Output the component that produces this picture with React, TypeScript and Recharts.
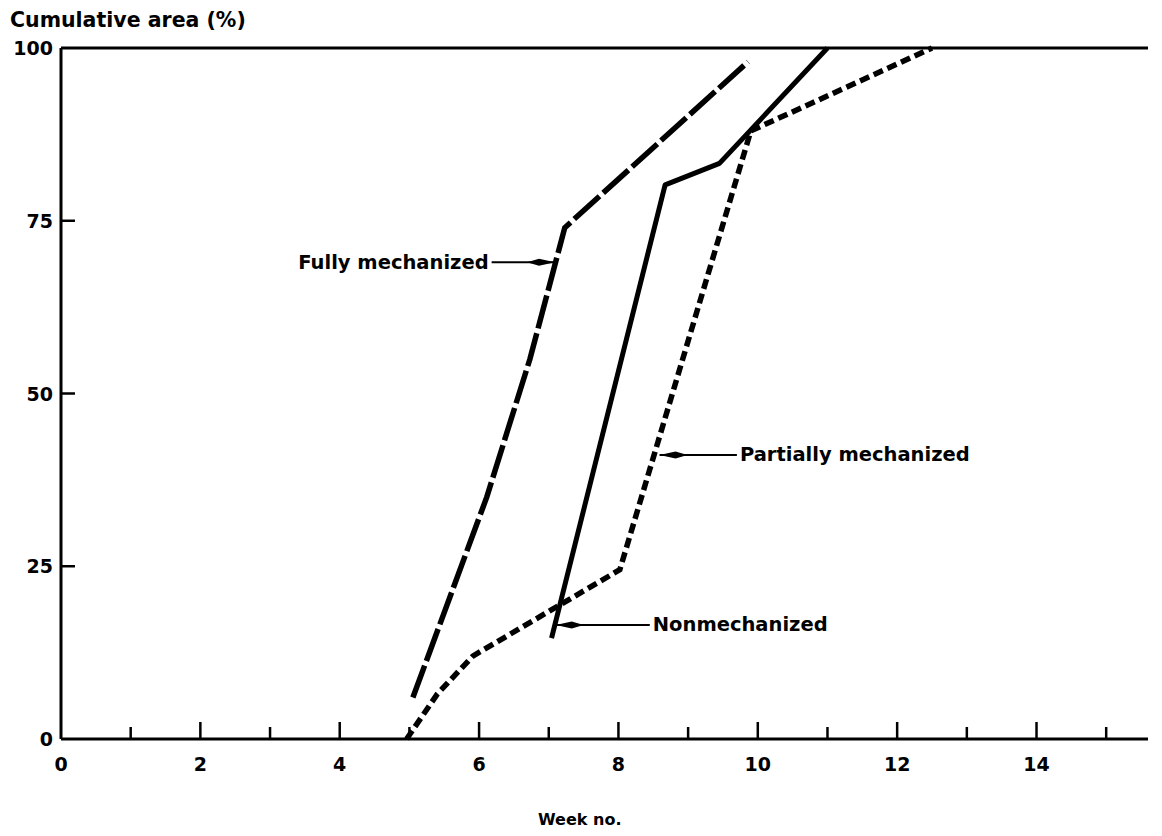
import React from "react";
import { LineChart, Line, XAxis, YAxis, ReferenceLine } from "recharts";

// values
const fullyWeeks = [5.05, 6.11, 6.73, 7.23, 9.86];
const fullyArea = [6, 35, 55, 74, 98];

const partialWeeks = [4.96, 5.4, 5.91, 8.02, 9.9, 12.5];
const partialArea = [0, 6.5, 12, 24.5, 88, 100];

const nonWeeks = [7.04, 8.67, 9.45, 11.0];
const nonArea = [14.6, 80.2, 83.3, 100];

const weekTicks = [0, 1, 2, 3, 4, 5, 6, 7, 8, 9, 10, 11, 12, 13, 14, 15];
const areaTicks = [0, 25, 50, 75, 100];

const toRows = (xs: number[], ys: number[]) => xs.map((x, i) => ({ week: x, area: ys[i] }));

const fullyData = toRows(fullyWeeks, fullyArea);
const partialData = toRows(partialWeeks, partialArea);
const nonData = toRows(nonWeeks, nonArea);

const FONT = "'DejaVu Sans', sans-serif";
const INK = "#000";
const X_MARGIN = 10;
const Y_MARGIN = 8;

const XTick = (props: any) => {
  const { x, y, payload } = props;
  const v = payload.value as number;
  const axisY = y - X_MARGIN;
  const even = v % 2 === 0;
  return (
    <g>
      {v > 0 && (
        <line x1={x} x2={x} y1={axisY} y2={axisY - (even ? 17 : 12)} stroke={INK} strokeWidth={2.5} />
      )}
      {even && (
        <text x={x} y={axisY + 25} textAnchor="middle" dominantBaseline="central"
          fontFamily={FONT} fontWeight="bold" fontSize={19} fill={INK}>
          {v}
        </text>
      )}
    </g>
  );
};

const YTick = (props: any) => {
  const { x, y, payload } = props;
  const v = payload.value as number;
  const axisX = x + Y_MARGIN;
  return (
    <g>
      {v > 0 && v < 100 && (
        <line x1={axisX} x2={axisX + 14} y1={y} y2={y} stroke={INK} strokeWidth={2.5} />
      )}
      <text x={x} y={y} textAnchor="end" dominantBaseline="central"
        fontFamily={FONT} fontWeight="bold" fontSize={19} fill={INK}>
        {v}
      </text>
    </g>
  );
};

// arrow pointing at a curve: first point is the tip, second is where the text sits
const pointer = (label: string) => (props: any) => {
  const { x1, y1, x2, y2 } = props;
  const dir = x2 > x1 ? 1 : -1;
  const head = `${x1},${y1} ${x1 + dir * 16},${y1 - 3.5} ${x1 + dir * 28},${y1} ${x1 + dir * 16},${y1 + 3.5}`;
  return (
    <g>
      <line x1={x1} y1={y1} x2={x2} y2={y2} stroke={INK} strokeWidth={2} />
      <polygon points={head} fill={INK} />
      <text x={x2 + dir * 3} y={y2} textAnchor={dir > 0 ? "start" : "end"} dominantBaseline="central"
        fontFamily={FONT} fontWeight="bold" fontSize={19.5} fill={INK}>
        {label}
      </text>
    </g>
  );
};

export default function App() {
  return (
    <div style={{ position: "absolute", left: 0, top: 0, width: 1162, height: 836, background: "#fff" }}>
      <div style={{ position: "absolute", left: 10, top: 8, fontFamily: FONT, fontWeight: "bold", fontSize: 20.5 }}>
        Cumulative area (%)
      </div>
      <div style={{ position: "absolute", left: 538, top: 810, fontFamily: FONT, fontWeight: "bold", fontSize: 16 }}>
        Week no.
      </div>
      <LineChart width={1162} height={836} margin={{ top: 48, right: 14, bottom: 57, left: 11 }}>
        <XAxis
          type="number"
          dataKey="week"
          domain={[0, 15.6]}
          ticks={weekTicks}
          interval={0}
          allowDataOverflow
          height={40}
          tickSize={0}
          tickMargin={X_MARGIN}
          tickLine={false}
          tick={<XTick />}
          axisLine={{ stroke: INK, strokeWidth: 3 }}
        />
        <YAxis
          type="number"
          dataKey="area"
          domain={[0, 100]}
          ticks={areaTicks}
          interval={0}
          width={50}
          tickSize={0}
          tickMargin={Y_MARGIN}
          tickLine={false}
          tick={<YTick />}
          axisLine={{ stroke: INK, strokeWidth: 3 }}
        />
        <ReferenceLine y={100} stroke={INK} strokeWidth={3} ifOverflow="extendDomain" />
        <Line data={fullyData} dataKey="area" type="linear" stroke={INK} strokeWidth={5.5}
          strokeDasharray="34 5" dot={false} isAnimationActive={false} />
        <Line data={partialData} dataKey="area" type="linear" stroke={INK} strokeWidth={5.5}
          strokeDasharray="10 5" dot={false} isAnimationActive={false} />
        <Line data={nonData} dataKey="area" type="linear" stroke={INK} strokeWidth={5}
          strokeLinejoin="round" dot={false} isAnimationActive={false} />
        <ReferenceLine segment={[{ x: 7.09, y: 69 }, { x: 6.18, y: 69 }]} shape={pointer("Fully mechanized")} />
        <ReferenceLine segment={[{ x: 8.59, y: 41.1 }, { x: 9.7, y: 41.1 }]} shape={pointer("Partially mechanized")} />
        <ReferenceLine segment={[{ x: 7.1, y: 16.5 }, { x: 8.45, y: 16.5 }]} shape={pointer("Nonmechanized")} />
      </LineChart>
    </div>
  );
}
